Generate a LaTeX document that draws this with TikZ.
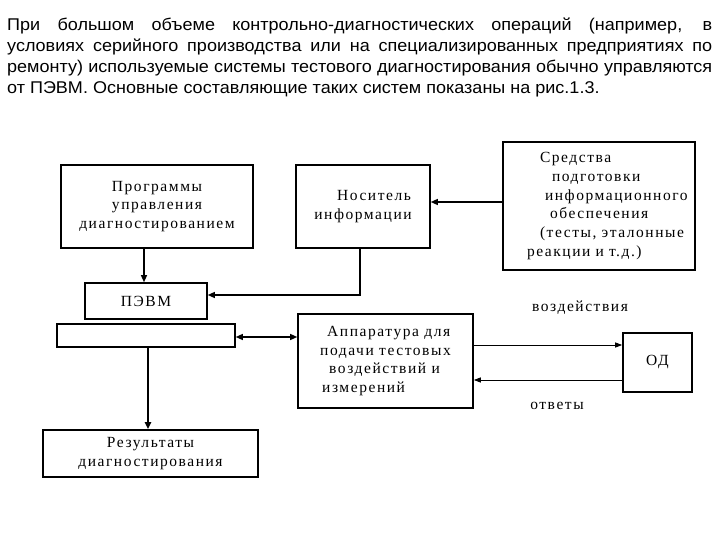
\documentclass[tikz,border=0pt]{standalone}
\usepackage{fontspec}
\setmainfont{Liberation Serif}
\newfontfamily\parafont[FakeStretch=1.06]{Liberation Sans}
\newfontfamily\diagfont[LetterSpace=10]{Liberation Serif}
\usetikzlibrary{arrows.meta,calc}
\begin{document}
\begin{tikzpicture}[x=1pt,y=-1pt,
 box/.style={draw,line width=1.6pt,inner sep=0pt,font=\diagfont\fontsize{15.5}{18.8}\selectfont},
 conn/.style={line width=1.3pt},
 arr/.style={conn,-{Triangle[length=7pt,width=6pt]}},
 darr/.style={conn,{Triangle[length=7pt,width=6pt]}-{Triangle[length=7pt,width=6pt]}},
 thinarr/.style={line width=0.9pt,-{Triangle[length=7pt,width=5pt]}},
 lbl/.style={font=\diagfont\fontsize{15.5}{18.8}\selectfont,inner sep=0pt}]
\useasboundingbox (0,0) rectangle (720,540);
\fill[white] (0,0) rectangle (720,540);

\node[anchor=north west, inner sep=0pt, text width=705pt, align=justify,
  font=\parafont\fontsize{17}{21}\selectfont] (para) at (7,18)
 {\hyphenpenalty=10000\tolerance=9999
 При большом объеме контрольно-диагностических операций (например, в\linebreak
 условиях серийного производства или на специализированных предприятиях по\linebreak
 ремонту) используемые системы тестового диагностирования обычно управляются\linebreak
 от ПЭВМ. Основные составляющие таких систем показаны на рис.1.3.};

\node[box, minimum width=192pt, minimum height=83pt, align=center] (prog) at (157,206.5)
 {Программы\\управления\\диагностированием};
\node[box, minimum width=134pt, minimum height=83pt, align=center] (nos) at (363,206.5)
 {\hspace*{22pt}Носитель\\информации};
\node[box, minimum width=192pt, minimum height=128pt, text width=192pt, align=left] (sred) at (599,206)
 {\hspace*{37pt}Средства\\\hspace*{49pt}подготовки\\\hspace*{42pt}информационного\\\hspace*{47pt}обеспечения\\\hspace*{37pt}(тесты, эталонные\\\hspace*{24pt}реакции и т.д.)};
\node[box, minimum width=122pt, minimum height=36pt] (pevm) at (146,301) {ПЭВМ};
\node[box, minimum width=178pt, minimum height=23pt] (blank) at (146,335.5) {};
\node[box, minimum width=175pt, minimum height=94pt, align=left] (app) at (385.5,361)
 {\hspace*{7pt}Аппаратура для\\подачи тестовых\\\hspace*{9pt}воздействий и\\\hspace*{2pt}измерений};
\node[box, minimum width=69pt, minimum height=59pt] (od) at (657.5,362.5) {ОД};
\node[box, minimum width=215pt, minimum height=47pt, align=center] (res) at (150.5,453.5)
 {Результаты\\диагностирования};

\node[lbl] (lv) at (580,308) {воздействия};
\node[lbl] (lo) at (557,406) {ответы};

\coordinate (c1) at (144,0);
\coordinate (c2) at (360,295);
\coordinate (c3) at (148,0);
\coordinate (ly1) at (0,202);
\coordinate (ly2) at (0,337);
\coordinate (ly3) at (0,345);
\coordinate (ly4) at (0,380);

\draw[arr] (c1 |- prog.south) -- (c1 |- pevm.north);
\draw[arr] (c2 |- nos.south) -- (c2) -- (c2 -| pevm.east);
\draw[arr] (sred.west |- ly1) -- (nos.east |- ly1);
\draw[darr] (blank.east |- ly2) -- (app.west |- ly2);
\draw[arr, line width=1.8pt] (c3 |- blank.south) -- (c3 |- res.north);
\draw[thinarr] (app.east |- ly3) -- (od.west |- ly3);
\draw[thinarr] (od.west |- ly4) -- (app.east |- ly4);
\end{tikzpicture}
\end{document}
